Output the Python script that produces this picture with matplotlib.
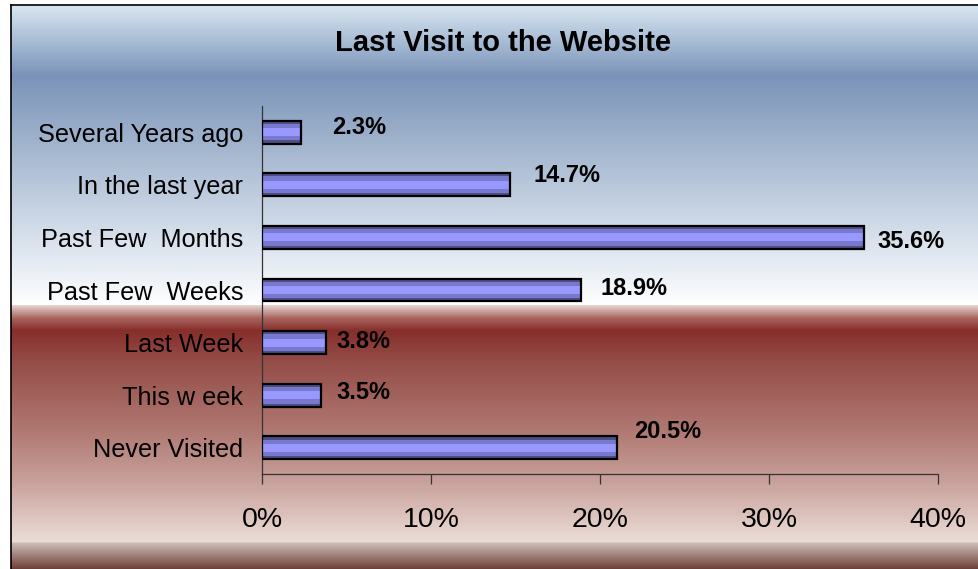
import numpy as np
import matplotlib
matplotlib.use("Agg")
import matplotlib.pyplot as plt
from matplotlib.colors import to_rgb

plt.rcParams['font.family'] = ['Liberation Sans', 'DejaVu Sans']

# ---- data ----
categories = ["Several Years ago", "In the last year", "Past Few  Months",
              "Past Few  Weeks", "Last Week", "This w eek", "Never Visited"]
bar_values = [2.3, 14.7, 35.6, 18.9, 3.8, 3.5, 21.0]
value_labels = ["2.3%", "14.7%", "35.6%", "18.9%", "3.8%", "3.5%", "20.5%"]
x_ticks = [0, 10, 20, 30, 40]
x_tick_labels = ["0%", "10%", "20%", "30%", "40%"]
title = "Last Visit to the Website"

# label placement (data coords: x in %, y in category units)
label_xy = [(5.74, -0.08), (18.05, 0.82), (38.4, 2.07), (22.0, 2.98),
            (6.0, 3.98), (6.0, 4.95), (24.0, 5.69)]

W, H = 979, 569
fig = plt.figure(figsize=(W / 100, H / 100), dpi=100)
fig.patch.set_facecolor("white")

# ---- background gradient ----
stops = [
    (0, "#ffffff"), (4, "#ffffff"), (5, "#d8e6f0"), (40, "#a9bdd5"),
    (75, "#7a93b9"), (150, "#a5b7cf"), (230, "#d3ddea"), (295, "#f8fafc"),
    (304, "#ffffff"), (305, "#e6d2ce"), (318, "#a7625d"), (330, "#872e2b"),
    (360, "#944c47"), (430, "#b07872"), (480, "#c8a09a"), (541, "#ecdcd6"),
    (543, "#cbbab4"), (569, "#6c3c36"),
]
ys = np.arange(H)
sp = np.array([s[0] for s in stops], float)
cols = np.array([to_rgb(s[1]) for s in stops])
grad = np.stack([np.interp(ys, sp, cols[:, c]) for c in range(3)], axis=-1)
img = np.repeat(grad[:, None, :], W, axis=1)
img[:, :11, :] = 1.0
img[:4, :, :] = 1.0

bg = fig.add_axes([0, 0, 1, 1], zorder=-1)
bg.imshow(img, aspect="auto", extent=(0, W, H, 0), interpolation="nearest")
bg.plot([11.5, 11.5], [4.5, H], color="black", lw=1.2)
bg.plot([11.5, W], [4.5, 4.5], color="black", lw=1.2)
bg.set_xlim(0, W)
bg.set_ylim(H, 0)
bg.axis("off")

# ---- main axes ----
x0, x1 = 262, 938
ytop, ybot = 105.7, 474.3
ax = fig.add_axes([x0 / W, 1 - ybot / H, (x1 - x0) / W, (ybot - ytop) / H])
ax.set_facecolor("none")

pos = np.arange(len(categories))
bh = 0.436
ax.barh(pos, bar_values, height=bh, color="#4e4e88", edgecolor="none", zorder=2)
ax.barh(pos, bar_values, height=bh * 0.72, color="#7878cc", edgecolor="none", zorder=3)
ax.barh(pos, bar_values, height=bh * 0.36, color="#9898ff", edgecolor="none", zorder=4)
ax.barh(pos, bar_values, height=bh, color="none", edgecolor="black", lw=1.6, zorder=5)

ax.set_xlim(0, 40)
ax.set_ylim(len(categories) - 0.5, -0.5)
ax.set_yticks(pos)
ax.set_yticklabels(categories, fontsize=18.2)
ax.tick_params(axis="y", length=0, pad=13.5)
ax.set_xticks(x_ticks)
ax.set_xticklabels(x_tick_labels, fontsize=20.5)
ax.tick_params(axis="x", direction="out", length=7.2, width=0.9, pad=16,
               color="#333333")

for s in ("top", "right"):
    ax.spines[s].set_visible(False)
for s in ("left", "bottom"):
    ax.spines[s].set_color("#333333")
    ax.spines[s].set_linewidth(0.9)

for (lx, ly), txt in zip(label_xy, value_labels):
    ax.text(lx, ly, txt, fontsize=17, fontweight="bold", ha="center",
            va="center", zorder=6)

fig.text(503 / W, 1 - 43 / H, title, fontsize=21, fontweight="bold",
         ha="center", va="center")

fig.savefig("out.png", dpi=100)
